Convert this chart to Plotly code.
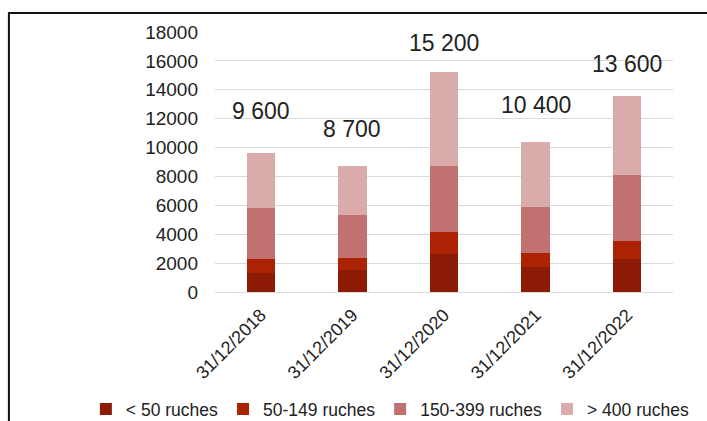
import plotly.graph_objects as go

# Categories (dates) and stacked series: number of apiaries by hive count
dates = ["31/12/2018", "31/12/2019", "31/12/2020", "31/12/2021", "31/12/2022"]
lt_50 = [1300, 1500, 2600, 1700, 2300]
r50_149 = [1000, 850, 1550, 1000, 1200]
r150_399 = [3500, 3000, 4550, 3200, 4600]
gt_400 = [3800, 3350, 6500, 4500, 5500]
totals = [9600, 8700, 15200, 10400, 13600]
total_labels = ["9 600", "8 700", "15 200", "10 400", "13 600"]
y_ticks = [0, 2000, 4000, 6000, 8000, 10000, 12000, 14000, 16000, 18000]

series_names = ["< 50 ruches", "50-149 ruches", "150-399 ruches", "> 400 ruches"]
series_values = [lt_50, r50_149, r150_399, gt_400]
series_colors = ["#8c1a04", "#ab2303", "#c27171", "#d9abab"]

# vertical pixel offset of each total label above its bar
label_shift = [42, 37, 29, 37, 32]

fig = go.Figure()
for name, vals, col in zip(series_names, series_values, series_colors):
    fig.add_trace(go.Bar(
        x=dates, y=vals, name=name,
        marker=dict(color=col, line=dict(width=0)),
        hoverinfo="skip",
    ))

for d, t, lab, sh in zip(dates, totals, total_labels, label_shift):
    fig.add_annotation(
        x=d, y=t, text=lab, showarrow=False,
        yanchor="middle", yshift=sh,
        font=dict(family="Liberation Sans, Arial, sans-serif", size=23, color="#222222"),
    )

# outer frame (top and left edges visible)
fig.add_shape(
    type="rect", xref="paper", yref="paper",
    x0=-0.45, x1=1.3, y0=-1.0, y1=1.073,
    line=dict(color="#111111", width=2), fillcolor="rgba(0,0,0,0)",
    layer="above",
)

fig.update_layout(
    width=707, height=421,
    barmode="stack",
    bargap=0.69,
    plot_bgcolor="white",
    paper_bgcolor="white",
    margin=dict(l=215, r=34, t=32, b=129, autoexpand=False),
    font=dict(family="Liberation Sans, Arial, sans-serif", color="#222222"),
    showlegend=True,
    legend=dict(
        orientation="h",
        x=-0.282, xanchor="left",
        y=-0.45, yanchor="middle",
        font=dict(family="Liberation Sans, Arial, sans-serif", size=17.5, color="#222222"),
        itemwidth=30,
        tracegroupgap=0,
        traceorder="normal",
        bgcolor="rgba(0,0,0,0)",
    ),
    xaxis=dict(
        type="category",
        tickangle=-45,
        tickfont=dict(family="Liberation Sans, Arial, sans-serif", size=18, color="#222222"),
        showgrid=False,
        showline=False,
        ticks="",
        automargin=False,
        ticklabelstandoff=8,
    ),
    yaxis=dict(
        range=[0, 18000],
        tickvals=y_ticks,
        tickformat="d",
        showgrid=True,
        gridcolor="#d9d9d9",
        gridwidth=1,
        zeroline=True,
        zerolinecolor="#d9d9d9",
        zerolinewidth=1,
        showline=False,
        automargin=False,
        ticklabelstandoff=16,
        tickfont=dict(family="Liberation Sans, Arial, sans-serif", size=19, color="#222222"),
    ),
)

fig.write_html("out.html")
